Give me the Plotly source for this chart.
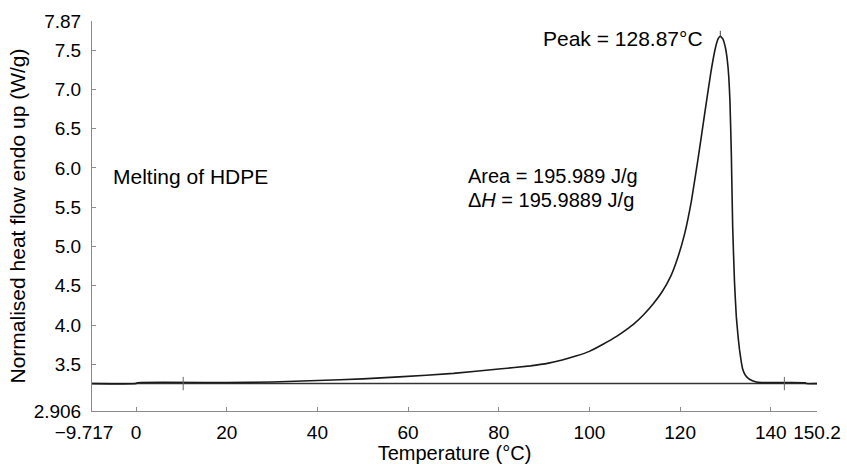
import plotly.graph_objects as go

# ---- data ----
temperature = [-9.717, 0, 0.3, 20, 30, 40, 50, 58, 70, 80, 87, 91, 94, 97, 100, 103,
               106, 108, 110, 112, 114, 116, 118, 119.5, 121, 122.5, 124, 125.5,
               126.8, 127.8, 128.4, 128.87, 129.4, 130.0, 130.4, 130.75, 131.0,
               131.3, 131.6, 132.0, 132.4, 132.8, 133.1, 133.5, 133.8, 134.4, 135.3,
               136.8, 138, 147.6, 147.8, 150.2]
heat_flow = [3.255, 3.255, 3.267, 3.268, 3.275, 3.295, 3.315, 3.34, 3.385, 3.44,
             3.48, 3.515, 3.555, 3.605, 3.665, 3.755, 3.855, 3.935, 4.025, 4.135,
             4.265, 4.42, 4.63, 4.86, 5.16, 5.58, 6.13, 6.72, 7.22, 7.53, 7.645,
             7.675, 7.645, 7.53, 7.38, 7.15, 6.85, 6.19, 5.25, 4.55, 4.11, 3.85,
             3.69, 3.53, 3.44, 3.36, 3.31, 3.275, 3.267, 3.265, 3.255, 3.255]

baseline_T = [-9.717, 150.2]
baseline_value = 3.255
integration_limits = [10.4, 143.0]
peak_T = 128.87
peak_value = 7.675

x_range = [-9.717, 150.2]
y_range = [2.906, 7.87]
x_tickvals = [-9.717, 0, 20, 40, 60, 80, 100, 120, 140, 150.2]
x_ticktext = ["\u22129.717\u00a0\u00a0\u00a0", "0", "20", "40", "60", "80", "100",
              "120", "140", "150.2"]
y_tickvals = [2.906, 3.5, 4.0, 4.5, 5.0, 5.5, 6.0, 6.5, 7.0, 7.5, 7.87]
y_ticktext = ["2.906", "3.5", "4.0", "4.5", "5.0", "5.5", "6.0", "6.5", "7.0", "7.5", "7.87"]

FONT = "Liberation Sans, Arial, Helvetica, sans-serif"
AXC = "#8a8a8a"
TICK_SIZE = 19
ANN_SIZE = 21
TITLE_SIZE = 20

fig = go.Figure()

# baseline
fig.add_trace(go.Scatter(x=baseline_T, y=[baseline_value] * len(baseline_T),
                         mode="lines", line=dict(color="#333333", width=1.5),
                         hoverinfo="skip", showlegend=False))
# DSC curve
fig.add_trace(go.Scatter(x=temperature, y=heat_flow, mode="lines",
                         line=dict(color="#1a1a1a", width=1.6, shape="spline", smoothing=0.4),
                         showlegend=False))
# integration limit markers
for t in integration_limits:
    fig.add_trace(go.Scatter(x=[t, t], y=[baseline_value - 0.085, baseline_value + 0.085],
                             mode="lines", line=dict(color="#666666", width=1),
                             hoverinfo="skip", showlegend=False))
# peak marker
fig.add_trace(go.Scatter(x=[peak_T, peak_T], y=[peak_value, peak_value + 0.07],
                         mode="lines", line=dict(color="#444444", width=1),
                         hoverinfo="skip", showlegend=False))

fig.add_annotation(x=125.3, y=7.648, text="Peak = 128.87\u00b0C", showarrow=False,
                   xanchor="right", yanchor="middle", borderpad=0,
                   font=dict(size=ANN_SIZE, color="black", family=FONT))
fig.add_annotation(x=-5.4, y=5.896, text="Melting of HDPE", showarrow=False,
                   xanchor="left", yanchor="middle", borderpad=0,
                   font=dict(size=ANN_SIZE, color="black", family=FONT))
fig.add_annotation(x=72.9, y=5.892, text="Area = 195.989 J/g", showarrow=False,
                   xanchor="left", yanchor="middle", borderpad=0,
                   font=dict(size=20, color="black", family=FONT))
fig.add_annotation(x=72.9, y=5.587, text="\u0394<i>H</i> = 195.9889 J/g", showarrow=False,
                   xanchor="left", yanchor="middle", borderpad=0,
                   font=dict(size=20, color="black", family=FONT))

fig.update_layout(
    width=847, height=464,
    margin=dict(l=92, r=30, t=21, b=53, autoexpand=False),
    paper_bgcolor="white", plot_bgcolor="white",
    font=dict(family=FONT, size=TICK_SIZE, color="black"),
    showlegend=False,
)
fig.update_xaxes(range=x_range, tickmode="array", tickvals=x_tickvals, ticktext=x_ticktext,
                 showgrid=False, zeroline=False, showline=True, linecolor=AXC, linewidth=1,
                 ticks="inside", ticklen=4, tickcolor=AXC, ticklabelstandoff=4,
                 tickangle=0, automargin=False,
                 tickfont=dict(size=TICK_SIZE, family=FONT, color="black"),
                 title=dict(text="Temperature (\u00b0C)", font=dict(size=TITLE_SIZE, family=FONT), standoff=0))
fig.update_yaxes(range=y_range, tickmode="array", tickvals=y_tickvals, ticktext=y_ticktext,
                 showgrid=False, zeroline=False, showline=True, linecolor=AXC, linewidth=1,
                 ticks="inside", ticklen=4, tickcolor=AXC, ticklabelstandoff=6,
                 automargin=False,
                 tickfont=dict(size=TICK_SIZE, family=FONT, color="black"),
                 title=dict(text="Normalised heat flow endo up (W/g)", font=dict(size=21, family=FONT), standoff=2))

fig.write_html("out.html")
